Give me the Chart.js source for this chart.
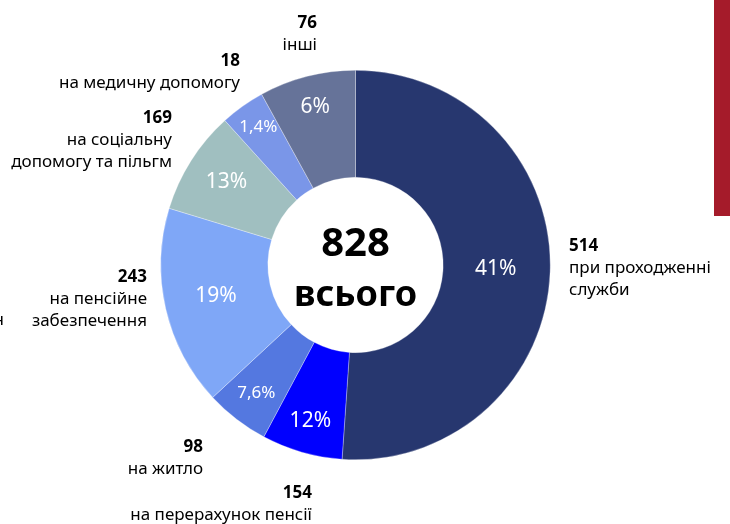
<!DOCTYPE html>
<html>
<head>
<meta charset="utf-8">
<script src="https://cdn.jsdelivr.net/npm/chart.js@4.4.1/dist/chart.umd.min.js"></script>
<style>
  html, body { margin: 0; padding: 0; background: #fff; }
  #wrap { position: relative; width: 730px; height: 524px; overflow: hidden; }
  #red-bar { position: absolute; left: 714px; top: 0; width: 16px; height: 216px; background: #a51b2a; }
</style>
</head>
<body>
<div id="wrap">
  <canvas id="donut" width="730" height="524"></canvas>
  <div id="red-bar"></div>
</div>
<script>
// categories, clockwise from 12 o'clock
const counts = [514, 154, 98, 243, 169, 18, 76];
const descriptions = [
    ["при проходженні", "служби"],
    ["на перерахунок пенсії"],
    ["на житло"],
    ["на пенсійне", "забезпечення"],
    ["на соціальну", "допомогу та пільгм"],
    ["на медичну допомогу"],
    ["інші"]
];
const percentLabels = ["41%", "12%", "7,6%", "19%", "13%", "1,4%", "6%"];
// slice sizes as drawn in the picture (they don't follow the printed percents)
const sliceShares = [51.1, 6.7, 5.3, 16.6, 8.6, 3.7, 8.0];
const total = 828;
const totalLabel = "всього";

const sliceColors = ["#27376f", "#0000ff", "#5478e0", "#7fa7f7", "#a0bfc0", "#7a96e8", "#667399"];

// distance of each percent label from the centre, as fraction of outer radius
const labelRadius = [0.72, 0.84, 0.835, 0.735, 0.785, 0.86, 0.83];

// where each callout sits: x, y of the bold number, text alignment
const callouts = [
    { x: 569, y: 246, align: "left" },
    { x: 312, y: 493, align: "right" },
    { x: 203, y: 447, align: "right" },
    { x: 147, y: 277, align: "right" },
    { x: 172, y: 118, align: "right" },
    { x: 240, y: 61, align: "right" },
    { x: 317, y: 23, align: "right" }
];

const FONT = "'Noto Sans', 'Open Sans', sans-serif";

const labelPlugin = {
    id: "labels",
    afterDatasetsDraw(chart) {
        const ctx = chart.ctx;
        const arcs = chart.getDatasetMeta(0).data;
        ctx.save();
        ctx.textBaseline = "middle";

        // percent inside each slice
        arcs.forEach((arc, i) => {
            const mid = (arc.startAngle + arc.endAngle) / 2;
            const r = arc.outerRadius * labelRadius[i];
            const small = percentLabels[i].includes(",");
            ctx.fillStyle = "#ffffff";
            ctx.textAlign = "center";
            ctx.font = (small ? "17px " : "21px ") + FONT;
            ctx.fillText(percentLabels[i], arc.x + r * Math.cos(mid), arc.y + r * Math.sin(mid) - 1);
        });

        // callouts outside
        callouts.forEach((c, i) => {
            ctx.fillStyle = "#000000";
            ctx.textAlign = c.align;
            ctx.font = "bold 17px " + FONT;
            ctx.fillText(String(counts[i]), c.x, c.y);
            ctx.font = "17px " + FONT;
            descriptions[i].forEach((line, j) => {
                ctx.fillText(line, c.x, c.y + 22 * (j + 1));
            });
        });

        // cut-off fragment at left edge
        ctx.textAlign = "right";
        ctx.font = "17px " + FONT;
        ctx.fillText("н", 4, 320);

        // centre total
        const cx = arcs[0].x, cy = arcs[0].y;
        ctx.textAlign = "center";
        ctx.font = "bold 40px " + FONT;
        ctx.fillText(String(total), cx, cy - 20);
        ctx.font = "bold 36px " + FONT;
        ctx.fillText(totalLabel, cx, cy + 31);
        ctx.restore();
    }
};

new Chart(document.getElementById("donut"), {
    type: "doughnut",
    data: {
        labels: counts.map(String),
        datasets: [{
            data: sliceShares,
            backgroundColor: sliceColors,
            borderColor: "rgba(255,255,255,0.6)",
            borderWidth: 0.5
        }]
    },
    options: {
        responsive: false,
        animation: false,
        cutout: "45%",
        layout: { padding: { left: 160, right: 179, top: 70, bottom: 64 } },
        plugins: {
            legend: { display: false },
            tooltip: { enabled: false }
        }
    },
    plugins: [labelPlugin]
});
</script>
</body>
</html>
